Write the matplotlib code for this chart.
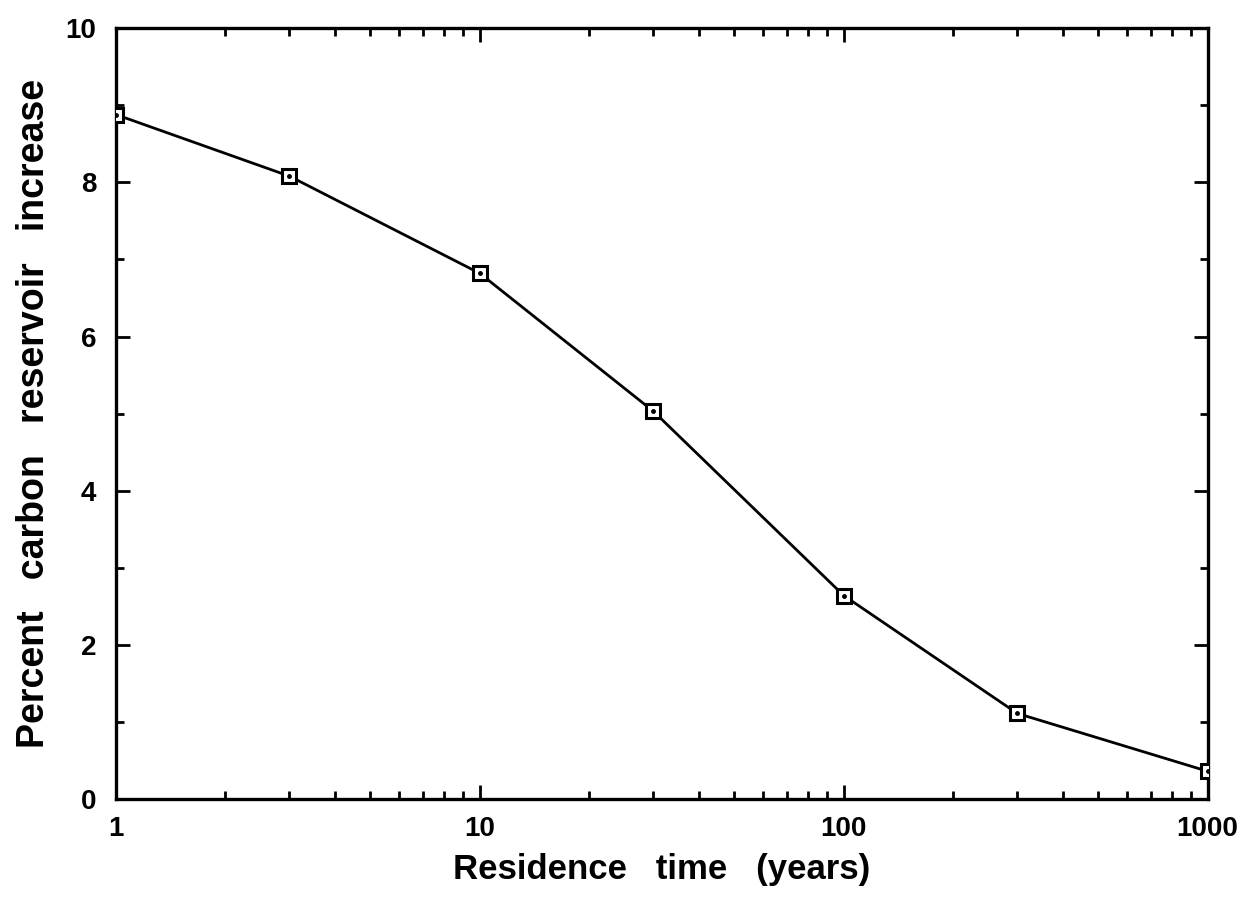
import numpy as np
import matplotlib
matplotlib.use("Agg")
import matplotlib.pyplot as plt
from matplotlib.ticker import LogLocator, FixedLocator, NullFormatter, FixedFormatter

# residence time (years) and percent increase
residence_time = [1, 3, 10, 30, 100, 300, 1000]
percent_increase = [8.88, 8.08, 6.82, 5.03, 2.64, 1.11, 0.36]

x_ticks = [1, 10, 100, 1000]
x_tick_labels = ["1", "10", "100", "1000"]
y_ticks = [0, 2, 4, 6, 8, 10]

plt.rcParams['font.family'] = ['Liberation Sans', 'DejaVu Sans']

fig = plt.figure(figsize=(12.45, 9.09), dpi=100)
ax = fig.add_axes([0.093, 0.121, 0.877, 0.848])

ax.plot(residence_time, percent_increase, color='black', lw=2.0, zorder=2)
ax.plot(residence_time, percent_increase, ls='none', marker='s', ms=10,
        mfc='white', mec='black', mew=2.2, zorder=3)
ax.plot(residence_time, percent_increase, ls='none', marker='o', ms=2.5,
        color='black', zorder=4)

ax.set_xscale('log')
ax.set_xlim(1, 1000)
ax.set_ylim(0, 10)

ax.xaxis.set_major_locator(FixedLocator(x_ticks))
ax.xaxis.set_major_formatter(FixedFormatter(x_tick_labels))
ax.xaxis.set_minor_locator(LogLocator(base=10, subs=np.arange(2, 10)))
ax.xaxis.set_minor_formatter(NullFormatter())
ax.set_yticks(y_ticks)
ax.set_yticks([1, 3, 5, 7, 9], minor=True)

ax.tick_params(which='both', direction='in', top=True, right=True, width=2.0)
ax.tick_params(which='major', length=10)
ax.tick_params(which='minor', length=6)
ax.tick_params(axis='x', which='major', pad=12)
ax.tick_params(axis='y', which='major', pad=14)
for lab in ax.get_xticklabels() + ax.get_yticklabels():
    lab.set_fontweight('bold')
    lab.set_fontsize(20)

for sp in ax.spines.values():
    sp.set_linewidth(2.4)

ax.set_xlabel("Residence   time   (years)", fontsize=25, fontweight='bold', labelpad=8)
ax.set_ylabel("Percent   carbon   reservoir   increase", fontsize=27, fontweight='bold', labelpad=10)

fig.savefig("out.png", dpi=100)
